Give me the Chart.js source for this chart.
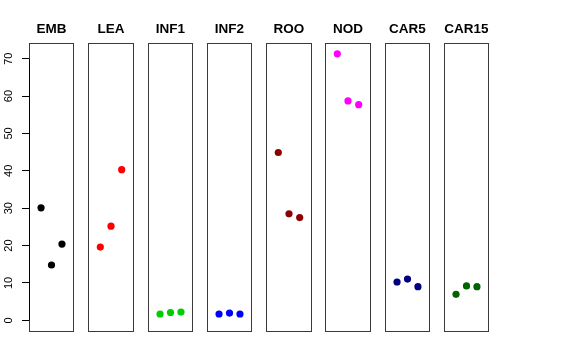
<!DOCTYPE html>
<html>
<head>
<meta charset="utf-8">
<script src="https://cdn.jsdelivr.net/npm/chart.js@4"></script>
<style>
  html, body { margin: 0; padding: 0; background: #fff; }
  #wrap { position: relative; width: 576px; height: 360px; overflow: hidden; }
  .panel { position: absolute; top: 0; display: block; }
</style>
</head>
<body>
<div id="wrap"></div>
<script>
// ---- data ----
const categories = ["EMB", "LEA", "INF1", "INF2", "ROO", "NOD", "CAR5", "CAR15"];
const EMB   = [30.1, 14.8, 20.4];
const LEA   = [19.6, 25.2, 40.3];
const INF1  = [1.7, 2.1, 2.2];
const INF2  = [1.7, 1.95, 1.7];
const ROO   = [44.9, 28.5, 27.5];
const NOD   = [71.3, 58.7, 57.7];
const CAR5  = [10.25, 11.05, 9.0];
const CAR15 = [6.95, 9.2, 9.0];
const seriesValues = [EMB, LEA, INF1, INF2, ROO, NOD, CAR5, CAR15];
const replicates = [1, 2, 3];
const yTickLabels = [0, 10, 20, 30, 40, 50, 60, 70];
const colors = ["#000000", "#FF0000", "#00CD00", "#0000FF", "#8B0000", "#FF00FF", "#000080", "#006400"];

// ---- layout ----
const plotLeft = 29, step = 59.29, panelW = 44.4;
const areaTop = 43, areaBottom = 331, canvasH = 340;
const yAxisW = 29, padX = 7;
const yMin = -2.854, yMax = 74.2;

const boxPlugin = {
  id: 'box',
  afterDatasetsDraw(chart) {
    const a = chart.chartArea, c = chart.ctx;
    c.save();
    c.strokeStyle = '#3a3a3a';
    c.lineWidth = 1;
    c.strokeRect(Math.round(a.left) + 0.5, Math.round(a.top) + 0.5,
                 Math.round(a.right) - Math.round(a.left) - 1, Math.round(a.bottom) - Math.round(a.top));
    c.restore();
  }
};
const yLabelPlugin = {
  id: 'ylabels',
  afterDraw(chart) {
    const ys = chart.scales.y, c = chart.ctx;
    c.save();
    c.fillStyle = '#000';
    c.font = '11px "Liberation Sans", Arial, sans-serif';
    c.textAlign = 'center';
    c.textBaseline = 'middle';
    yTickLabels.forEach(v => {
      const py = ys.getPixelForValue(v);
      c.save();
      c.translate(9, py);
      c.rotate(-Math.PI / 2);
      c.fillText(String(v), 0, 0);
      c.restore();
    });
    c.strokeStyle = '#000';
    c.beginPath();
    const x = Math.round(chart.chartArea.left) + 0.5;
    c.moveTo(x, ys.getPixelForValue(yTickLabels[0]));
    c.lineTo(x, ys.getPixelForValue(yTickLabels[yTickLabels.length - 1]));
    c.stroke();
    c.restore();
  }
};

const wrap = document.getElementById('wrap');
categories.forEach((cat, i) => {
  const left = Math.round(plotLeft + i * step);
  const right = Math.round(plotLeft + i * step + panelW) + 1;
  const first = i === 0;
  const cLeft = first ? left - yAxisW : left - padX;
  const cRight = first ? right : right + padX;
  const cW = cRight - cLeft;
  const cv = document.createElement('canvas');
  cv.className = 'panel';
  cv.width = cW;
  cv.height = canvasH;
  cv.style.left = cLeft + 'px';
  cv.style.width = cW + 'px';
  cv.style.height = canvasH + 'px';
  wrap.appendChild(cv);

  new Chart(cv, {
    type: 'scatter',
    data: {
      datasets: [{
        label: cat,
        data: replicates.map((r, j) => ({ x: r, y: seriesValues[i][j] })),
        backgroundColor: colors[i],
        borderColor: colors[i],
        pointRadius: 3.6,
        pointHoverRadius: 3.6,
        borderWidth: 0
      }]
    },
    options: {
      responsive: false,
      maintainAspectRatio: false,
      devicePixelRatio: 1,
      animation: false,
      events: [],
      layout: {
        autoPadding: false,
        padding: { top: 0, bottom: canvasH - areaBottom, left: first ? 0 : padX, right: first ? 0 : padX }
      },
      plugins: {
        legend: { display: false },
        tooltip: { enabled: false },
        title: {
          display: true,
          fullSize: !first,
          text: cat,
          color: '#000',
          font: { family: '"Liberation Sans", Arial, sans-serif', size: 13.5, weight: 'bold', lineHeight: 1.2 },
          padding: { top: 21, bottom: areaTop - 21 - 16.2 }
        }
      },
      scales: {
        x: { type: 'linear', display: false, min: -0.15, max: 4.15 },
        y: {
          type: 'linear',
          display: first,
          min: yMin, max: yMax,
          afterBuildTicks(s) { s.ticks = yTickLabels.map(v => ({ value: v })); },
          afterFit(s) { s.width = first ? yAxisW : 0; },
          ticks: { display: false },
          border: { display: false },
          grid: { drawOnChartArea: false, drawTicks: true, tickLength: 7, color: '#000', lineWidth: 1 }
        }
      }
    },
    plugins: first ? [boxPlugin, yLabelPlugin] : [boxPlugin]
  });
});
</script>
</body>
</html>
